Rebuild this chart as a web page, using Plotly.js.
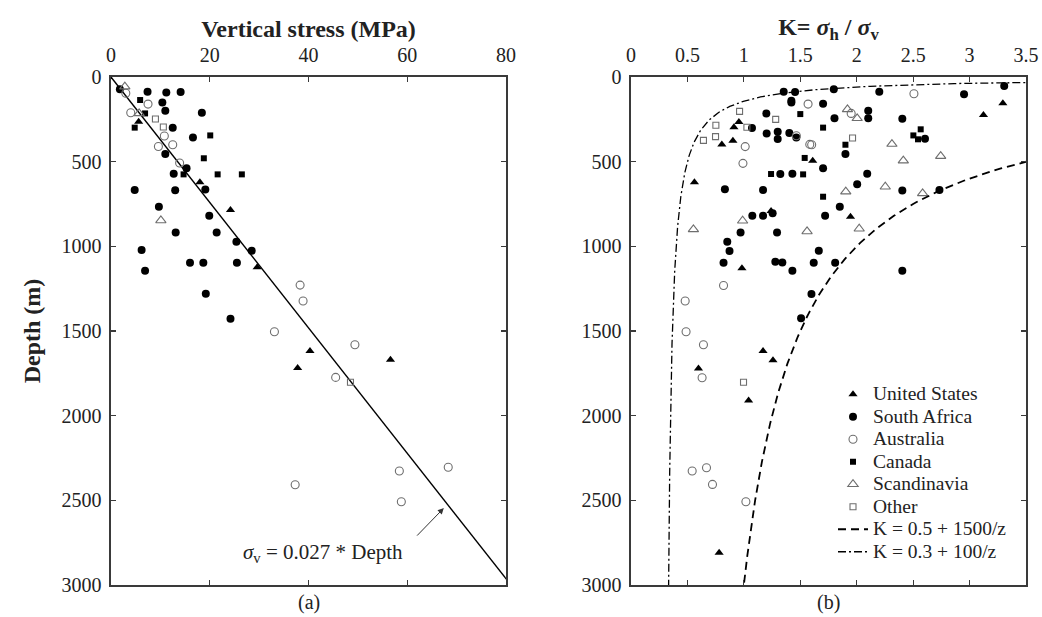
<!DOCTYPE html>
<html>
<head>
<meta charset="utf-8">
<script src="https://cdn.plot.ly/plotly-3.0.1.min.js"></script>
<style>html,body{margin:0;padding:0;background:#fff}</style>
</head>
<body>
<div id="chart" style="width:1042px;height:617px"></div>
<script>
// ---- Panel (a): vertical stress (MPa) against depth (m) ----
const usStressA   = [5.6, 18.0, 24.2, 29.6, 40.3, 37.8, 56.6];
const usDepthA    = [264, 622, 786, 1124, 1618, 1719, 1670];
const saStressA   = [1.8, 7.4, 11.2, 14.1, 10.4, 11.0, 18.4, 12.5, 16.6, 11.0, 15.3, 12.7, 4.8, 13.0, 19.1, 9.7, 19.9, 13.1, 21.4, 25.4, 28.5, 6.2, 6.9, 16.0, 18.7, 25.5, 19.2, 24.2];
const saDepthA    = [73, 87, 91, 89, 151, 199, 211, 299, 358, 455, 539, 571, 667, 669, 665, 766, 819, 918, 918, 973, 1026, 1022, 1144, 1097, 1097, 1097, 1280, 1427];
const auStressA   = [3.0, 7.5, 4.0, 10.8, 9.6, 12.5, 13.9, 38.3, 38.9, 33.1, 49.4, 45.5, 37.3, 58.4, 68.3, 58.8];
const auDepthA    = [96, 160, 211, 348, 410, 400, 508, 1229, 1323, 1504, 1581, 1774, 2408, 2327, 2305, 2508];
const caStressA   = [5.9, 6.9, 4.8, 20.1, 18.8, 14.7, 21.6, 26.5];
const caDepthA    = [136, 215, 299, 345, 480, 575, 575, 575];
const scStressA   = [2.8, 5.7, 10.1];
const scDepthA    = [57, 215, 847];
const otStressA   = [9.0, 10.6, 48.5];
const otDepthA    = [248, 295, 1803];

// sigma_v = 0.027 * depth
const gradient    = 0.027;
const lineDepth   = [0, 3000];

// ---- Panel (b): stress ratio K against depth (m) ----
const usK  = [3.295, 3.123, 0.956, 0.912, 0.805, 0.903, 0.562, 1.241, 0.983, 1.61, 1.945, 0.598, 1.17, 1.258, 1.042, 0.781];
const usZ  = [155, 224, 266, 297, 398, 376, 622, 791, 1130, 494, 825, 1721, 1618, 1672, 1910, 2810];
const saK  = [1.353, 1.454, 1.421, 1.421, 1.199, 1.072, 1.202, 1.30, 1.30, 1.403, 1.465, 1.323, 1.43, 0.832, 1.17, 1.075, 1.17, 1.255, 0.971, 1.294, 0.853, 0.873, 0.82, 1.279, 1.341, 1.43, 1.797, 2.20, 2.951, 3.307, 1.702, 1.803, 2.102, 2.102, 2.404, 2.605, 1.90, 1.702, 2.093, 2.004, 2.404, 2.733, 1.85, 1.72, 1.664, 1.619, 1.809, 2.404, 1.599, 1.507];
const saZ  = [87, 89, 140, 151, 215, 301, 333, 323, 366, 331, 358, 573, 571, 663, 667, 819, 819, 805, 918, 918, 973, 1028, 1097, 1091, 1095, 1144, 73, 87, 102, 53, 158, 244, 199, 244, 246, 364, 455, 539, 571, 634, 671, 667, 766, 819, 1026, 1097, 1097, 1144, 1282, 1425];
const auK  = [1.569, 1.465, 1.584, 1.012, 0.992, 0.82, 0.48, 2.507, 1.951, 1.601, 0.488, 0.642, 0.63, 0.542, 0.669, 0.722, 1.018];
const auZ  = [160, 347, 398, 411, 510, 1231, 1323, 99, 215, 400, 1504, 1581, 1776, 2327, 2308, 2406, 2508];
const caK  = [1.50, 1.539, 1.241, 1.525, 1.702, 2.567, 2.502, 2.543, 1.90, 1.702];
const caZ  = [219, 478, 573, 575, 299, 309, 345, 368, 400, 707];
const scK  = [0.989, 0.553, 1.56, 1.918, 2.004, 2.312, 2.413, 2.744, 2.253, 2.584, 1.903, 2.022];
const scZ  = [849, 900, 912, 191, 244, 396, 494, 467, 648, 687, 677, 896];
const otK  = [0.962, 1.282, 0.752, 1.027, 0.749, 0.642, 1.963, 0.997];
const otZ  = [203, 250, 285, 297, 352, 374, 360, 1803];

// Bounding curves K = a + b / z
const upperA = 0.5, upperB = 1500;
const lowerA = 0.3, lowerB = 100;

const seriesNames = ['United States', 'South Africa', 'Australia', 'Canada', 'Scandinavia', 'Other'];
const curveNames  = ['K = 0.5 + 1500/z', 'K = 0.3 + 100/z'];

const FONT = 'Liberation Serif, Times New Roman, serif';
const GREY = '#6e6e6e';

// Legend rows are packed tightly; the label glyphs are set a bit larger than the row pitch
const legendLabel = s => '<span style="font-size:19.5px">' + s + '</span>';

const styles = [
  {symbol: 'triangle-up', size: 8, color: '#000', line: {width: 0}},
  {symbol: 'circle', size: 8, color: '#000', line: {width: 0}},
  {symbol: 'circle-open', size: 8, color: GREY, line: {width: 1.1, color: GREY}},
  {symbol: 'square', size: 6, color: '#000', line: {width: 0}},
  {symbol: 'triangle-up-open', size: 9, color: GREY, line: {width: 1.1, color: GREY}},
  {symbol: 'square-open', size: 6, color: GREY, line: {width: 1.1, color: GREY}}
];

const panelA = [[usStressA, usDepthA], [saStressA, saDepthA], [auStressA, auDepthA],
                [caStressA, caDepthA], [scStressA, scDepthA], [otStressA, otDepthA]];
const panelB = [[usK, usZ], [saK, saZ], [auK, auZ], [caK, caZ], [scK, scZ], [otK, otZ]];

const traces = [];

// Lithostatic line in panel (a)
traces.push({
  x: lineDepth.map(z => gradient * z), y: lineDepth,
  xaxis: 'x', yaxis: 'y', mode: 'lines', showlegend: false, hoverinfo: 'skip',
  line: {color: '#000', width: 1.4}
});

panelA.forEach((d, i) => traces.push({
  x: d[0], y: d[1], xaxis: 'x', yaxis: 'y', mode: 'markers', type: 'scatter',
  name: seriesNames[i], showlegend: false, marker: styles[i], cliponaxis: false
}));

panelB.forEach((d, i) => traces.push({
  x: d[0], y: d[1], xaxis: 'x2', yaxis: 'y2', mode: 'markers', type: 'scatter',
  name: legendLabel(seriesNames[i]), showlegend: true, marker: styles[i], cliponaxis: false
}));

// Sample depths for the bounding curves
const curveDepth = [];
for (let z = 25; z <= 3000; z += (z < 200 ? 1 : 10)) curveDepth.push(z);

traces.push({
  x: curveDepth.map(z => upperA + upperB / z), y: curveDepth,
  xaxis: 'x2', yaxis: 'y2', mode: 'lines', name: legendLabel(curveNames[0]),
  line: {color: '#000', width: 1.8, dash: '8px,5px'}
});
traces.push({
  x: curveDepth.map(z => lowerA + lowerB / z), y: curveDepth,
  xaxis: 'x2', yaxis: 'y2', mode: 'lines', name: legendLabel(curveNames[1]),
  line: {color: '#000', width: 1.3, dash: '8px,3px,2px,3px'}
});

const axisCommon = {
  showline: true, linecolor: '#3a3a3a', linewidth: 1.6, mirror: 'ticks',
  ticks: 'inside', ticklen: 5, tickwidth: 1.2, tickcolor: '#3a3a3a',
  showgrid: false, zeroline: false, fixedrange: true,
  tickfont: {family: FONT, size: 20, color: '#222'}
};

const W = 1042, H = 617;
const yTop = 1 - 77 / H, yBottom = 1 - 585 / H;
const titleFont = {family: FONT, size: 24, color: '#222'};

const layout = {
  width: W, height: H,
  margin: {l: 0, r: 0, t: 0, b: 0},
  paper_bgcolor: '#fff', plot_bgcolor: '#fff',
  font: {family: FONT, color: '#222'},
  xaxis: Object.assign({}, axisCommon, {
    domain: [111 / W, 506 / W], range: [0, 80], dtick: 20, side: 'top', anchor: 'y',
    ticklabelstandoff: 5,
    title: {text: '<b>Vertical stress (MPa)</b>', font: titleFont, standoff: 0}
  }),
  yaxis: Object.assign({}, axisCommon, {
    domain: [yBottom, yTop], range: [3000, 0], dtick: 500, anchor: 'x',
    ticklabelstandoff: 4,
    title: {text: '<b>Depth (m)</b>', font: titleFont, standoff: 14}
  }),
  xaxis2: Object.assign({}, axisCommon, {
    domain: [631 / W, 1026 / W], range: [0, 3.5], dtick: 0.5, side: 'top', anchor: 'y2',
    ticklabelstandoff: 5,
    title: {text: '<b>K= <i>σ</i><sub>h</sub> / <i>σ</i><sub>v</sub></b>', font: titleFont, standoff: 0}
  }),
  yaxis2: Object.assign({}, axisCommon, {
    domain: [yBottom, yTop], range: [3000, 0], dtick: 500, anchor: 'x2',
    ticklabelstandoff: 4
  }),
  legend: {
    x: 833 / W, xanchor: 'left', y: 1 - 378 / H, yanchor: 'top',
    bgcolor: 'rgba(0,0,0,0)', borderwidth: 0, tracegroupgap: 0,
    font: {family: FONT, size: 15, color: '#222'}
  },
  annotations: [
    {xref: 'x', yref: 'y', x: 42.9, y: 2811, xanchor: 'center', yanchor: 'middle', showarrow: false,
     text: '<i>σ</i><sub>v</sub> = 0.027 * Depth', font: {family: FONT, size: 21, color: '#222'}},
    {xref: 'x', yref: 'y', x: 67.4, y: 2546, axref: 'x', ayref: 'y', ax: 61.7, ay: 2717,
     text: '', showarrow: true, arrowhead: 2, arrowsize: 1.2, arrowwidth: 1, arrowcolor: '#333'},
    {xref: 'paper', yref: 'paper', x: 308.5 / W, y: 1 - 602 / H, xanchor: 'center', yanchor: 'middle',
     showarrow: false, text: '(a)', font: {family: FONT, size: 20, color: '#222'}},
    {xref: 'paper', yref: 'paper', x: 828.5 / W, y: 1 - 602 / H, xanchor: 'center', yanchor: 'middle',
     showarrow: false, text: '(b)', font: {family: FONT, size: 20, color: '#222'}}
  ],
  showlegend: true
};

Plotly.newPlot('chart', traces, layout, {staticPlot: true, displayModeBar: false});
</script>
</body>
</html>
